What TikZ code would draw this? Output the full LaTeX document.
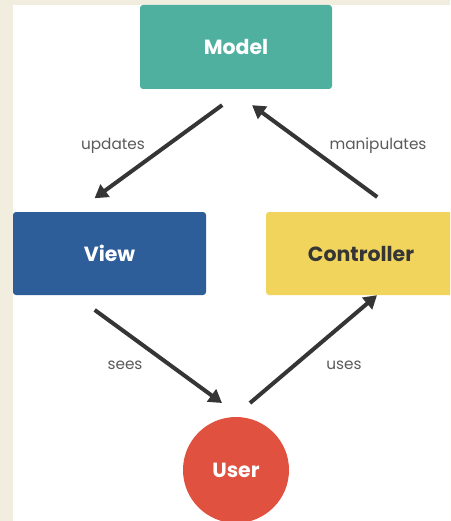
\documentclass[tikz,border=0pt]{standalone}
\usepackage{fontspec}
\setmainfont{Poppins}
\usetikzlibrary{arrows.meta}
\definecolor{paper}{HTML}{F2EEDF}
\definecolor{modelc}{HTML}{4FB0A0}
\definecolor{viewc}{HTML}{2E5E99}
\definecolor{ctrlc}{HTML}{F0D45C}
\definecolor{userc}{HTML}{E1513F}
\definecolor{inkc}{HTML}{353535}
\definecolor{labelc}{HTML}{5A5A5A}
\tikzset{
  box/.style={draw=none, rounded corners=3pt, inner sep=0pt,
    font=\fontsize{20.5}{24}\selectfont\bfseries},
  flow/.style={draw=inkc, line width=4pt, -{Triangle[length=13pt,width=15pt]}},
  lbl/.style={text=labelc, font=\fontsize{15.3}{18}\selectfont, inner sep=0pt}
}
\begin{document}
\begin{tikzpicture}[x=1pt,y=-1pt]
  \useasboundingbox (0,0) rectangle (450,521);
  \clip (0,0) rectangle (450,521);
  % page: beige frame with white sheet
  \fill[paper] (-5,-5) rectangle (460,530);
  \fill[white] (13,5) rectangle (460,530);

  % the three components and the user
  \node[box, fill=modelc, text=white, minimum width=192pt, minimum height=84pt]
    (model) at (236,47) {Model};
  \node[box, fill=viewc, text=white, minimum width=193pt, minimum height=83pt]
    (view) at (109.5,253.5) {View};
  \node[box, fill=ctrlc, text=inkc, minimum width=190pt, minimum height=83pt]
    (ctrl) at (361,253.5) {Controller};
  \node[circle, fill=userc, text=white, minimum size=106pt, inner sep=0pt,
    font=\fontsize{20.5}{24}\selectfont\bfseries]
    (user) at (236,470) {User};

  % arrow ends next to the user circle
  \coordinate (seesTip) at (222,403);
  \coordinate (usesTail) at (250,403);

  % connectors
  \draw[flow, shorten <=27pt, shorten >=23pt]
    (model.south -| 244,0) -- (view.north -| 76,0);
  \draw[flow, shorten <=25pt, shorten >=27pt]
    (ctrl.north -| 397.4,0) -- (model.south -| 230.3,0);
  \draw[flow, shorten <=25pt]
    (view.south -| 74.5,0) -- (seesTip);
  \draw[flow]
    (usesTail) -- (ctrl.south -| 377,310);

  % connector labels
  \node[lbl] (lupd) at (113,146) {updates};
  \node[lbl] (lman) at (378,146) {manipulates};
  \node[lbl] (lsee) at (125,365) {sees};
  \node[lbl] (luse) at (344,365) {uses};
\end{tikzpicture}
\end{document}
